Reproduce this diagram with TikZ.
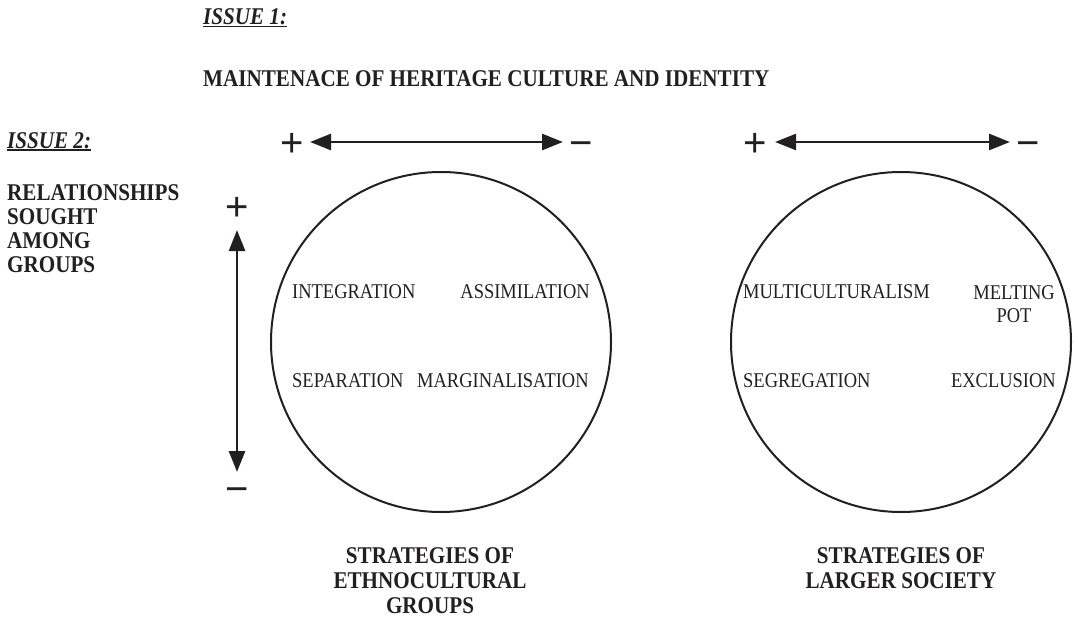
\documentclass[tikz,border=0pt]{standalone}
\usepackage{fontspec}
\setmainfont{Liberation Serif}[FakeStretch=0.88]
\newfontfamily\signfont{Liberation Sans}
\newsavebox{\issuebox}
\newcommand{\issueline}[1]{\sbox{\issuebox}{#1}\rlap{\usebox{\issuebox}}\rule[-2.5pt]{\wd\issuebox}{1.5pt}}
\usetikzlibrary{arrows.meta}
\definecolor{ink}{HTML}{231F20}
\tikzset{
	head/.style={inner sep=0pt, font=\fontsize{24}{25}\selectfont\bfseries, text=ink},
	term/.style={inner sep=0pt, font=\fontsize{21}{23}\selectfont, text=ink},
	sign/.style={inner sep=0pt, font=\signfont\fontsize{40}{40}\selectfont, text height=28pt, text depth=0pt, text=ink},
	axis/.style={draw=ink, line width=2.5pt, {Triangle[length=21pt,width=16pt]}-{Triangle[length=21pt,width=16pt]}},
	ring/.style={circle, draw=ink, line width=2pt, inner sep=0pt, minimum size=340pt}
}
\begin{document}
\begin{tikzpicture}[x=1pt,y=-1pt]
	\useasboundingbox (0,0) rectangle (1074,618);
	\node[head, anchor=base west] (issueA) at (203,25) {\issueline{\textit{ISSUE 1:}}};
	\node[head, anchor=base west] (heritage) at (203,87) {MAINTENACE OF HERITAGE CULTURE AND IDENTITY};
	\node[head, anchor=base west] (issueB) at (7,148) {\issueline{\textit{ISSUE 2:}}};
	\node[head, anchor=north west, align=left, font=\fontsize{24}{24}\selectfont\bfseries] (relations) at (7,184) {RELATIONSHIPS\\SOUGHT\\AMONG\\GROUPS};

	\node[sign] (plusA) at (292,142) {+};
	\node[sign] (minusA) at (581,142) {−};
	\node[sign] (plusB) at (755,142) {+};
	\node[sign] (minusB) at (1028,142) {−};
	\node[sign] (plusC) at (237,206) {+};
	\node[sign] (minusC) at (237,488) {−};
	\coordinate (axA1) at (310,142);
	\coordinate (axA2) at (563,142);
	\coordinate (axB1) at (775,142);
	\coordinate (axB2) at (1010,142);
	\coordinate (axC1) at (237,230);
	\coordinate (axC2) at (237,472);
	\draw[axis] (axA1) -- (axA2);
	\draw[axis] (axB1) -- (axB2);
	\draw[axis] (axC1) -- (axC2);

	\node[ring] (ethno) at (441,342) {};
	\node[ring] (society) at (901,342) {};

	\node[term, anchor=base west] (integration) at (292,298) {INTEGRATION};
	\node[term, anchor=base east] (assimilation) at (590,298) {ASSIMILATION};
	\node[term, anchor=base west] (separation) at (292,387) {SEPARATION};
	\node[term, anchor=base west] (marginal) at (417,387) {MARGINALISATION};
	\node[term, anchor=base west] (multi) at (743,298) {MULTICULTURALISM};
	\node[term, anchor=north east, align=center] (melting) at (1055,285) {MELTING\\POT};
	\node[term, anchor=base west] (segregation) at (743,387) {SEGREGATION};
	\node[term, anchor=base east] (exclusion) at (1056,387) {EXCLUSION};

	\node[head, anchor=north, align=center] (ethnoLabel) at (430,547) {STRATEGIES OF\\ETHNOCULTURAL\\GROUPS};
	\node[head, anchor=north, align=center] (societyLabel) at (901,547) {STRATEGIES OF\\LARGER SOCIETY};
\end{tikzpicture}
\end{document}
